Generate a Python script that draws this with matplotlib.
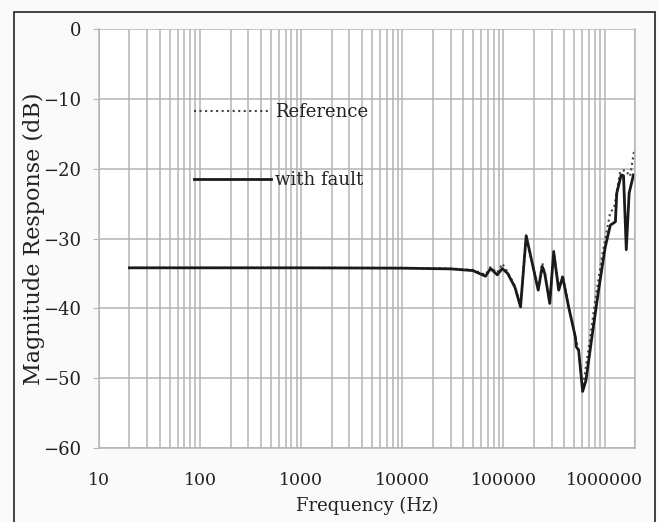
import numpy as np
import matplotlib.pyplot as plt
from matplotlib.patches import Rectangle
from matplotlib.ticker import LogLocator, FixedLocator, NullFormatter

# === Données (Hz, dB) ===
freq_fault = [20, 100, 1000, 10000, 30000, 50000, 66500, 74600, 86800, 97300,
              110000, 130000, 147600, 167800, 220600, 241700, 256000, 287000,
              314000, 352000, 385000, 441000, 514000, 525000, 554000, 607000,
              655000, 750000, 873000, 1016000, 1140000, 1280000, 1320000,
              1460000, 1540000, 1640000, 1750000, 1930000]
mag_fault = [-34.2, -34.2, -34.2, -34.25, -34.35, -34.6, -35.4, -34.3, -35.2, -34.3,
             -35.0, -37.0, -39.8, -29.6, -37.4, -34.0, -35.0, -39.3,
             -31.9, -37.4, -35.5, -39.8, -44.1, -45.5, -46.0, -51.9,
             -50.3, -44.1, -37.4, -31.2, -28.1, -27.6, -23.5,
             -20.9, -21.0, -31.6, -23.5, -20.9]

freq_ref = [20, 100, 1000, 10000, 30000, 50000, 66500, 74600, 86800, 97300,
            110000, 130000, 147600, 167800, 220600, 241700, 256000, 287000,
            314000, 352000, 385000, 441000, 514000, 554000, 607000,
            722000, 809000, 942000, 1055000, 1140000, 1240000, 1425000,
            1600000, 1790000, 1950000]
mag_ref = [-34.2, -34.2, -34.2, -34.2, -34.3, -34.5, -35.2, -34.1, -34.9, -33.6,
           -34.8, -36.8, -39.6, -29.8, -37.2, -33.5, -34.8, -39.0,
           -31.8, -37.2, -35.3, -39.6, -44.0, -46.0, -51.5,
           -44.1, -38.8, -32.6, -28.8, -26.2, -25.7, -20.4,
           -20.2, -21.1, -17.6]

y_ticks = [0, -10, -20, -30, -40, -50, -60]
x_ticks = [10, 100, 1000, 10000, 100000, 1000000]
x_labels = ["10", "100", "1000", "10000", "100000", "1000000"]

plt.rcParams['font.family'] = ['DejaVu Serif']

fig = plt.figure(figsize=(6.59, 5.22), dpi=100, facecolor='#fafafa')
ax = fig.add_axes([99 / 659, 1 - 448 / 522, (635 - 99) / 659, (448 - 29) / 522])
ax.set_facecolor('white')

ax.plot(freq_ref, mag_ref, linestyle=':', color='#444444', linewidth=1.5, label="Reference")
ax.plot(freq_fault, mag_fault, linestyle='-', color='#1a1a1a', linewidth=2.0, label="with fault")

ax.set_xscale('log')
ax.set_xlim(10, 2e6)
ax.set_ylim(-60, 0)

ax.xaxis.set_major_locator(FixedLocator(x_ticks))
ax.set_xticklabels(x_labels)
ax.xaxis.set_minor_locator(LogLocator(base=10, subs=np.arange(2, 10)))
ax.xaxis.set_minor_formatter(NullFormatter())
ax.set_yticks(y_ticks)
ax.set_yticklabels([str(v).replace('-', '\u2212') for v in y_ticks])

grid_col = '#b4b4b4'
ax.grid(True, which='both', axis='x', color=grid_col, linewidth=1.1)
ax.grid(True, which='major', axis='y', color=grid_col, linewidth=1.1)
ax.set_axisbelow(True)
for s in ax.spines.values():
    s.set_color(grid_col)
    s.set_linewidth(1.1)
ax.spines['top'].set_visible(False)

ax.tick_params(axis='x', which='both', length=0, labelsize=12.5, pad=17, colors='#222222')
ax.tick_params(axis='y', length=4, labelsize=13, pad=9, colors='#222222')
ax.tick_params(axis='y', color=grid_col)

ax.set_xlabel("Frequency (Hz)", fontsize=13, color='#222222', labelpad=6)
ax.set_ylabel("Magnitude Response (dB)", fontsize=16, color='#222222')
ax.yaxis.set_label_coords(-0.1, 0.5)

leg = ax.legend(loc='upper left', bbox_to_anchor=(0.163, 0.84), frameon=False,
                fontsize=13, handlelength=4.3, handletextpad=0.2, labelspacing=2.75,
                borderaxespad=0)
for t in leg.get_texts():
    t.set_color('#222222')

# cadre autour de la figure
fig.patches.append(Rectangle((14 / 659, -0.01), (655 - 14) / 659, 1 - 12 / 522 + 0.01,
                             transform=fig.transFigure, fill=False,
                             edgecolor='#333333', linewidth=1.3))

plt.savefig("out.png", dpi=100, facecolor=fig.get_facecolor())
